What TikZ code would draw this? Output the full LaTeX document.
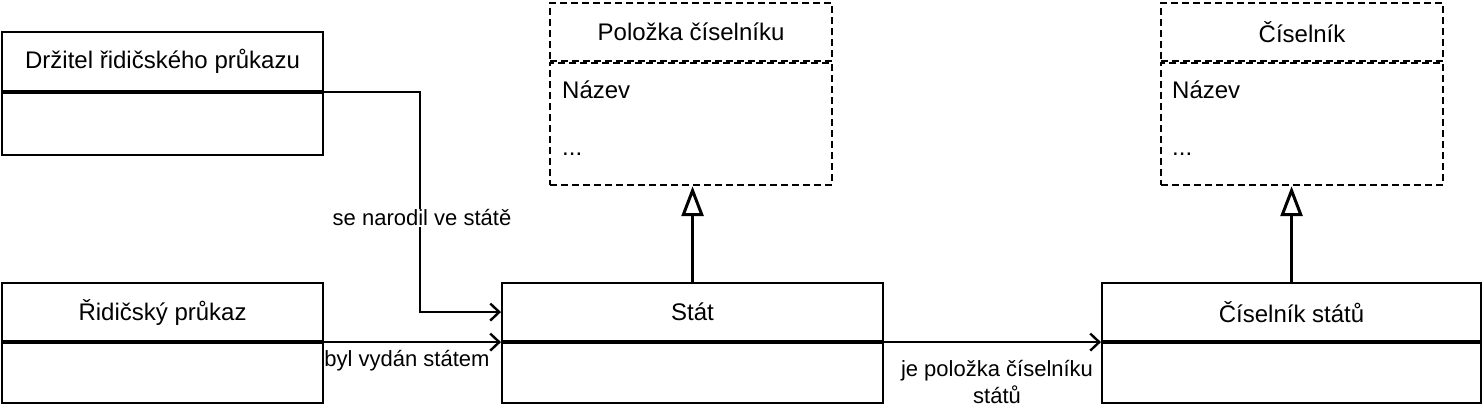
\documentclass[tikz,border=0pt]{standalone}
\usepackage{fontspec}
\setmainfont{Liberation Sans}
\usetikzlibrary{arrows.meta,calc}
\tikzset{
  boxfont/.style={font=\fontsize{24}{28}\selectfont},
  lblfont/.style={font=\fontsize{22}{27}\selectfont},
  clsbox/.style={draw, line width=2.1pt, inner sep=0pt, boxfont, anchor=north west},
  dshbox/.style={clsbox, dash pattern=on 7pt off 4pt},
  attr/.style={boxfont, inner sep=0pt, anchor=west},
  assoc/.style={line width=2.1pt, -{Straight Barb[length=9pt,width=17pt,line width=2.4pt]}},
  inherit/.style={line width=3pt, -{Triangle[open,length=30pt,width=22pt,line width=3pt]}},
  edgelbl/.style={lblfont, fill=white, inner sep=1pt, align=center}
}
\begin{document}
\begin{tikzpicture}[x=1pt,y=-1pt]
\useasboundingbox[fill=white] (0,0) rectangle (1482,408);

% Drzitel
\node[clsbox, minimum width=321pt, minimum height=59pt] (drzh) at (1,31) {Držitel řidičského průkazu};
\node[clsbox, minimum width=321pt, minimum height=62pt] (drzb) at (drzh.south west) {};

% Ridicsky prukaz
\node[clsbox, minimum width=321pt, minimum height=58pt] (ridh) at (1,282) {Řidičský průkaz};
\node[clsbox, minimum width=321pt, minimum height=60pt] (ridb) at (ridh.south west) {};

% Stat
\node[clsbox, minimum width=381pt, minimum height=58pt] (stath) at (501,282) {Stát};
\node[clsbox, minimum width=381pt, minimum height=60pt] (statb) at (stath.south west) {};

% Ciselnik statu
\node[clsbox, minimum width=379pt, minimum height=58pt] (cish) at (1101,282) {Číselník států};
\node[clsbox, minimum width=379pt, minimum height=60pt] (cisb) at (cish.south west) {};

% Polozka ciselniku (dashed)
\node[dshbox, minimum width=282pt, minimum height=58pt] (polh) at (549,2) {Položka číselníku};
\node[dshbox, minimum width=282pt, minimum height=122pt] (polb) at (polh.south west) {};
\node[attr] (polnaz) at (562,90) {Název};
\node[attr] (poldots) at (562,154) {...};

% Ciselnik (dashed)
\node[dshbox, minimum width=282pt, minimum height=58pt] (csh) at (1160,2) {Číselník};
\node[dshbox, minimum width=282pt, minimum height=122pt] (csb) at (csh.south west) {};
\node[attr] (csnaz) at (1172,90) {Název};
\node[attr] (csdots) at (1172,154) {...};

% associations
\draw[assoc] (drzh.south east) -| ($(stath.west)+(-81,0)$) -- (stath.west);
\node[edgelbl] (lblnar) at (422,218) {se narodil ve státě};

\draw[assoc] (ridh.south east) -- (stath.south west);
\node[lblfont, inner sep=0pt] (lblvyd) at (407,361) {byl vydán státem};

\draw[assoc] (stath.south east) -- (cish.south west);
\node[lblfont, inner sep=0pt, align=center] (lblpol) at (997,382) {je položka číselníku\\států};

% generalizations
\draw[inherit] (stath.north) -- (stath.north |- polb.south);
\draw[inherit] (cish.north) -- (cish.north |- csb.south);
\end{tikzpicture}
\end{document}
